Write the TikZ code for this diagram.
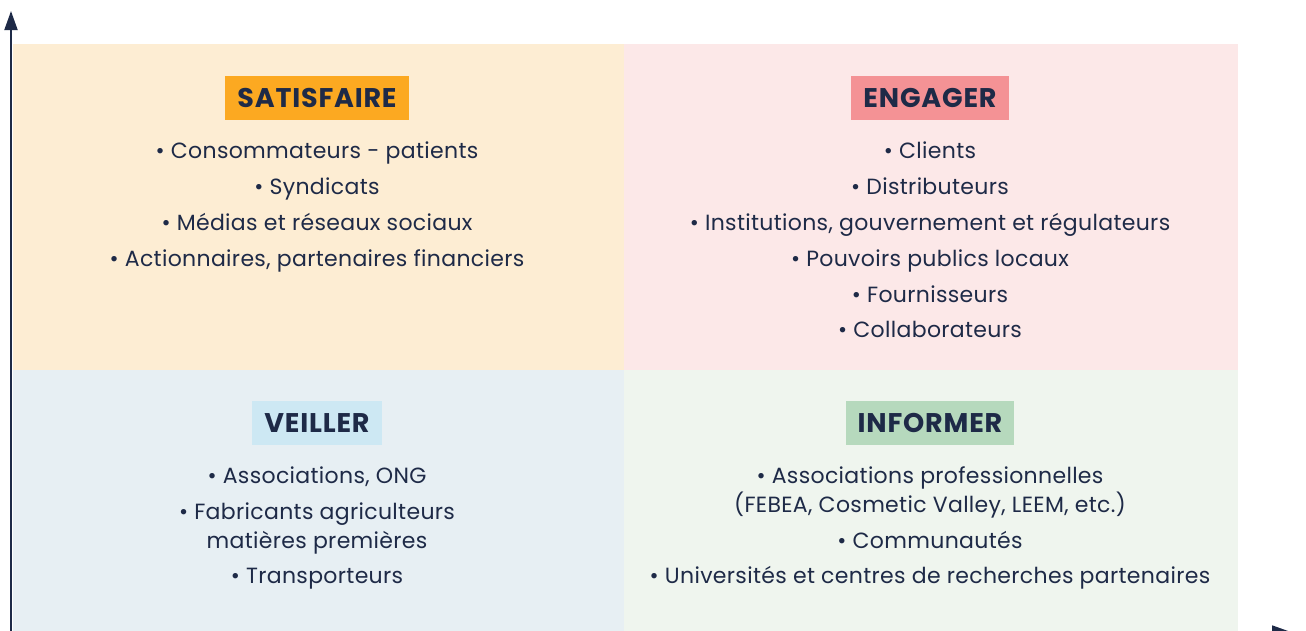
\documentclass[tikz,border=0pt]{standalone}
\usepackage{fontspec}
\setmainfont{Poppins}
\usetikzlibrary{arrows.meta}
\definecolor{navy}{HTML}{1E2A47}
\definecolor{qtl}{HTML}{FDEDD3}
\definecolor{qtr}{HTML}{FCE8E8}
\definecolor{qbl}{HTML}{E7EFF3}
\definecolor{qbr}{HTML}{EFF5EE}
\definecolor{ttl}{HTML}{FCA921}
\definecolor{ttr}{HTML}{F49295}
\definecolor{tbl}{HTML}{CDE8F3}
\definecolor{tbr}{HTML}{B6D9BD}
\newfontfamily\itemfont[LetterSpace=1.5]{Poppins}
\newfontfamily\titlefont[LetterSpace=3]{Poppins Bold}
\tikzset{
  quad/.style={draw=none,inner sep=0pt,anchor=north west},
  title/.style={text=navy,font=\titlefont\fontsize{27}{30}\selectfont,minimum height=44pt,inner xsep=12pt,inner ysep=0pt},
  item/.style={text=navy,font=\itemfont\fontsize{22}{29}\selectfont,align=center,inner sep=0pt,text height=15.5pt,text depth=4.5pt},
  axis/.style={draw=navy,line width=1.8pt,-{Triangle[length=19pt,width=13pt]}}
}
\begin{document}
\begin{tikzpicture}[x=1pt,y=-1pt]
\useasboundingbox (0,0) rectangle (1306,630);
\fill[white] (0,0) rectangle (1306,630);
% quadrants
\node[quad,fill=qtl,minimum width=611pt,minimum height=326pt] (qtl) at (13,44) {};
\node[quad,fill=qtr,minimum width=614pt,minimum height=326pt] (qtr) at (624,44) {};
\node[quad,fill=qbl,minimum width=611pt,minimum height=262pt] (qbl) at (13,370) {};
\node[quad,fill=qbr,minimum width=614pt,minimum height=262pt] (qbr) at (624,370) {};
% axes
\coordinate (o) at (11,632);
\coordinate (ytip) at (11,11);
\coordinate (xtip) at (1291,632);
\draw[axis] (o) -- (ytip);
\draw[axis] (o) -- (xtip);
% titles
\node[title,fill=ttl] (t1) at (317,98) {SATISFAIRE};
\node[title,fill=ttr] (t2) at (930,98) {ENGAGER};
\node[title,fill=tbl] (t3) at (317,423) {VEILLER};
\node[title,fill=tbr] (t4) at (930,423) {INFORMER};
% top-left
\node[item] (a1) at (317,152.5) {• Consommateurs - patients};
\node[item] (a2) at (317,188.5) {• Syndicats};
\node[item] (a3) at (317,224.5) {• Médias et réseaux sociaux};
\node[item] (a4) at (317,260.5) {• Actionnaires, partenaires financiers};
% top-right
\node[item] (b1) at (930,152.5) {• Clients};
\node[item] (b2) at (930,188.5) {• Distributeurs};
\node[item] (b3) at (930,224.5) {• Institutions, gouvernement et régulateurs};
\node[item] (b4) at (930,260.5) {• Pouvoirs publics locaux};
\node[item] (b5) at (930,296.5) {• Fournisseurs};
\node[item] (b6) at (930,331.5) {• Collaborateurs};
% bottom-left
\node[item] (c1) at (317,477.5) {• Associations, ONG};
\node[item] (c2) at (317,543) {• Fabricants agriculteurs\\matières premières};
\node[item] (c3) at (317,577.5) {• Transporteurs};
% bottom-right
\node[item] (d1) at (930,507) {• Associations professionnelles\\(FEBEA, Cosmetic Valley, LEEM, etc.)};
\node[item] (d2) at (930,542.5) {• Communautés};
\node[item] (d3) at (930,577.5) {• Universités et centres de recherches partenaires};
\end{tikzpicture}
\end{document}
